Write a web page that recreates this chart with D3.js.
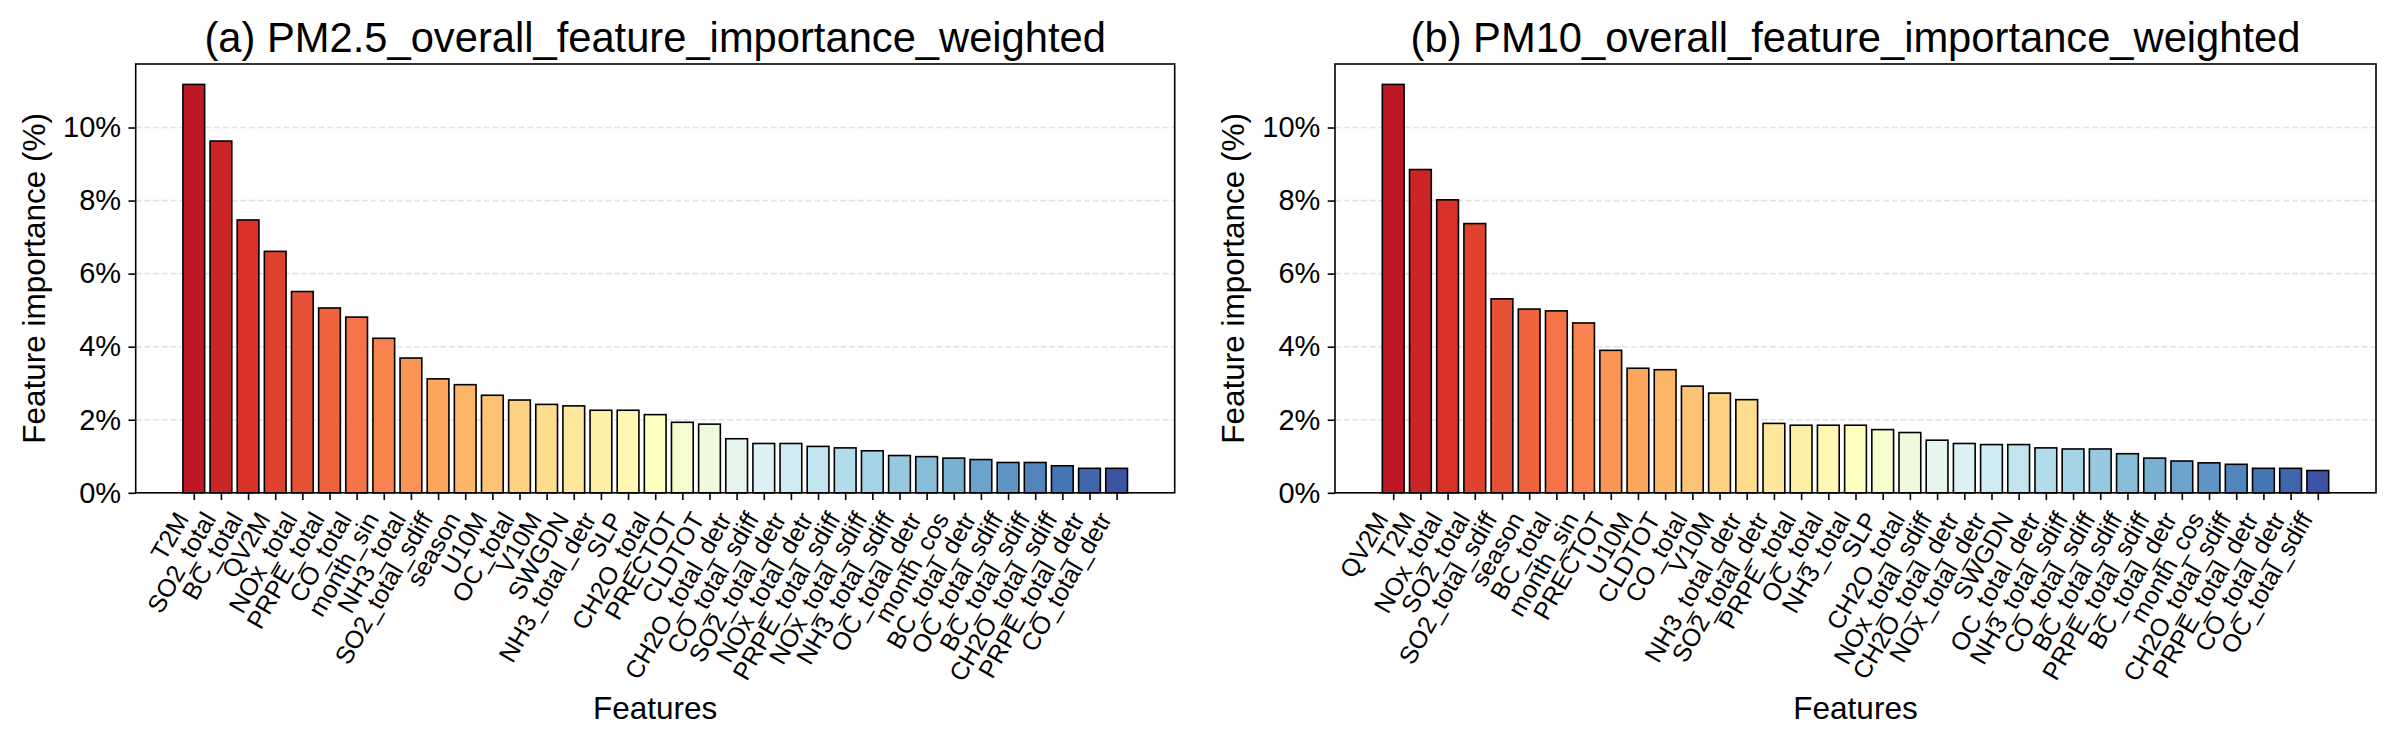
<!DOCTYPE html>
<html><head><meta charset="utf-8">
<script src="https://cdn.jsdelivr.net/npm/d3@7"></script>
<style>
body{margin:0;background:#fff}
svg{display:block;font-family:"Liberation Sans",Arial,Helvetica,sans-serif}
</style>
</head><body>
<svg id="c" width="2398" height="742"></svg>
<script>
const featuresA = ["T2M","SO2_total","BC_total","QV2M","NOx_total","PRPE_total","CO_total","month_sin","NH3_total","SO2_total_sdiff","season","U10M","OC_total","V10M","SWGDN","NH3_total_detr","SLP","CH2O_total","PRECTOT","CLDTOT","CH2O_total_detr","CO_total_sdiff","SO2_total_detr","NOx_total_detr","PRPE_total_sdiff","NOx_total_sdiff","NH3_total_sdiff","OC_total_detr","month_cos","BC_total_detr","OC_total_sdiff","BC_total_sdiff","CH2O_total_sdiff","PRPE_total_detr","CO_total_detr"];
const valuesA = [11.18,9.63,7.47,6.61,5.51,5.06,4.81,4.23,3.69,3.12,2.96,2.67,2.54,2.42,2.38,2.26,2.26,2.14,1.93,1.88,1.48,1.35,1.35,1.27,1.23,1.15,1.02,0.99,0.95,0.91,0.83,0.83,0.74,0.67,0.67];
const featuresB = ["QV2M","T2M","NOx_total","SO2_total","SO2_total_sdiff","season","BC_total","month_sin","PRECTOT","U10M","CLDTOT","CO_total","V10M","NH3_total_detr","SO2_total_detr","PRPE_total","OC_total","NH3_total","SLP","CH2O_total","NOx_total_sdiff","CH2O_total_detr","NOx_total_detr","SWGDN","OC_total_detr","NH3_total_sdiff","CO_total_sdiff","BC_total_sdiff","PRPE_total_sdiff","BC_total_detr","month_cos","CH2O_total_sdiff","PRPE_total_detr","CO_total_detr","OC_total_sdiff"];
const valuesB = [11.18,8.85,8.02,7.37,5.31,5.03,4.98,4.65,3.90,3.41,3.37,2.92,2.73,2.55,1.90,1.85,1.85,1.85,1.73,1.65,1.44,1.35,1.32,1.32,1.23,1.20,1.20,1.07,0.95,0.87,0.82,0.78,0.67,0.67,0.61];
const titles = ["(a) PM2.5_overall_feature_importance_weighted","(b) PM10_overall_feature_importance_weighted"];
const yTicks = [0,2,4,6,8,10];
const yLabel = "Feature importance (%)";
const xLabel = "Features";

(function(){
const svg = d3.select("#c");
const panels = [
  {left:135.7, right:1174.7, feats:featuresA, vals:valuesA, title:titles[0]},
  {left:1335, right:2376, feats:featuresB, vals:valuesB, title:titles[1]}
];
const axTop = 64, axBottom = 492.8;
const stops = d3.schemeRdYlBu[11];
const cmap = d3.scaleLinear().domain(d3.range(11).map(i=>i/10)).range(stops).interpolate(d3.interpolateRgb);

panels.forEach(p=>{
  const n = p.vals.length;
  const span = (n-1)+0.8;
  const x = d3.scaleLinear().domain([-0.4-0.05*span, n-1+0.4+0.05*span]).range([p.left,p.right]);
  const y = d3.scaleLinear().domain([0, d3.max(p.vals)*1.05]).range([axBottom, axTop]);
  const g = svg.append("g");
  g.selectAll("line.grid").data(yTicks).join("line")
    .attr("x1",p.left).attr("x2",p.right)
    .attr("y1",d=>y(d)).attr("y2",d=>y(d))
    .attr("stroke","#d0d0d0").attr("stroke-opacity",0.6)
    .attr("stroke-width",1.6).attr("stroke-dasharray","6,2.7");
  g.selectAll("rect.bar").data(p.vals).join("rect")
    .attr("x",(d,i)=>x(i-0.4)).attr("width",(d,i)=>x(i+0.4)-x(i-0.4))
    .attr("y",d=>y(d)).attr("height",d=>axBottom-y(d))
    .attr("fill",(d,i)=>cmap(0.05+0.9*i/(n-1)))
    .attr("stroke","#000").attr("stroke-width",1.6);
  const ya = d3.axisLeft(y).tickValues(yTicks).tickFormat(d=>d+"%").tickSize(7.3).tickPadding(7.3);
  const yg = g.append("g").attr("transform",`translate(${p.left},0)`).call(ya);
  yg.select(".domain").remove();
  yg.selectAll(".tick line").attr("stroke","#000").attr("stroke-width",1.6);
  yg.selectAll(".tick text").attr("font-size","29px").attr("fill","#000")
    .attr("font-family","'Liberation Sans',Arial,sans-serif");
  const xa = d3.axisBottom(x).tickValues(d3.range(n)).tickFormat(i=>p.feats[i]).tickSize(7.3).tickPadding(0);
  const xg = g.append("g").attr("transform",`translate(0,${axBottom})`).call(xa);
  xg.select(".domain").remove();
  xg.selectAll(".tick line").attr("stroke","#000").attr("stroke-width",1.6);
  const fs = 25, asc = 0.905*fs, desc = 0.212*fs;
  xg.selectAll(".tick text")
    .attr("font-size",fs+"px").attr("fill","#000")
    .attr("font-family","'Liberation Sans',Arial,sans-serif")
    .attr("text-anchor","end").attr("y",0).attr("dy",0)
    .attr("transform",`translate(${-0.866*desc},${14.6+0.5*asc}) rotate(-60)`);
  g.append("rect").attr("x",p.left).attr("y",axTop).attr("width",p.right-p.left).attr("height",axBottom-axTop)
    .attr("fill","none").attr("stroke","#000").attr("stroke-width",1.6);
  g.append("text").attr("x",(p.left+p.right)/2).attr("y",axTop-12.5)
    .attr("text-anchor","middle").attr("font-size","41.7px").attr("fill","#000").text(p.title);
  g.append("text").attr("x",(p.left+p.right)/2).attr("y",719)
    .attr("text-anchor","middle").attr("font-size","31.5px").attr("fill","#000").text(xLabel);
  g.append("text").attr("transform",`translate(${p.left-91},${(axTop+axBottom)/2}) rotate(-90)`)
    .attr("text-anchor","middle").attr("font-size","31.5px").attr("fill","#000").text(yLabel);
});
})();
</script>
</body></html>
